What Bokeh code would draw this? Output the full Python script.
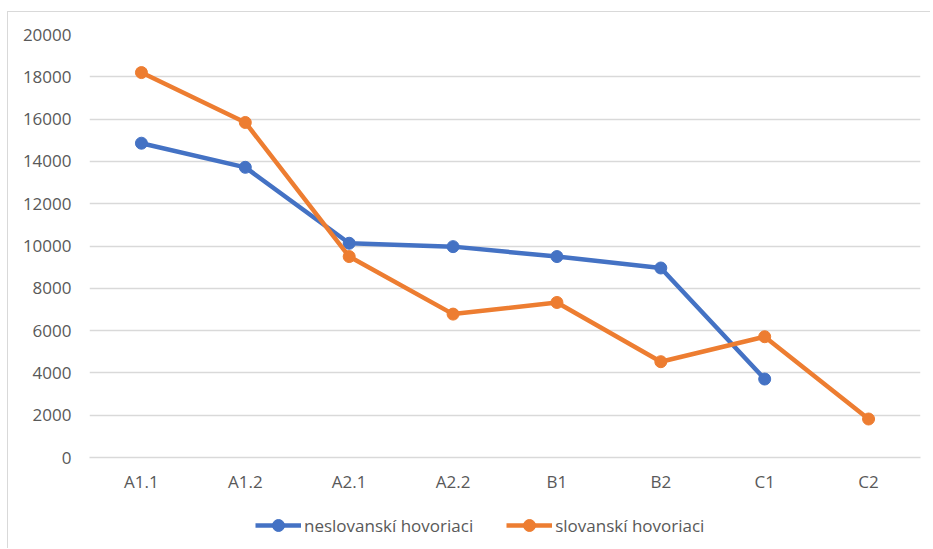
from bokeh.plotting import figure
from bokeh.models import Range1d, FixedTicker, Legend, LegendItem
from bokeh.layouts import column
from bokeh.embed import file_html
from bokeh.resources import INLINE

categories = ["A1.1", "A1.2", "A2.1", "A2.2", "B1", "B2", "C1", "C2"]
neslovanski = [14860, 13720, 10130, 9970, 9500, 8960, 3710, float("nan")]
slovanski = [18200, 15840, 9500, 6780, 7330, 4530, 5710, 1820]
y_ticks = [0, 2000, 4000, 6000, 8000, 10000, 12000, 14000, 16000, 18000, 20000]
series_names = ["neslovanskí hovoriaci", "slovanskí hovoriaci"]

BLUE = "#4472C4"
ORANGE = "#ED7D31"
GRID = "#d9d9d9"
TEXT = "#595959"
FONT = "Open Sans"

p = figure(
    x_range=categories,
    y_range=Range1d(0, 20000),
    width=922,
    height=490,
    output_backend="svg",
    toolbar_location=None,
    min_border_left=81,
    min_border_right=10,
    min_border_top=22,
    min_border_bottom=45,
)
p.x_range.range_padding = 0
p.outline_line_color = None
p.background_fill_color = "white"
p.border_fill_color = "white"

p.xgrid.grid_line_color = None
p.ygrid.grid_line_color = GRID
p.ygrid.grid_line_width = 1.3

p.yaxis.ticker = FixedTicker(ticks=y_ticks)
p.yaxis.axis_line_color = None
p.yaxis.major_tick_line_color = None
p.yaxis.minor_tick_line_color = None
p.yaxis.major_tick_out = 0
p.yaxis.major_label_standoff = 18

p.xaxis.axis_line_color = GRID
p.xaxis.axis_line_width = 1.3
p.xaxis.major_tick_line_color = None
p.xaxis.major_tick_out = 0
p.xaxis.major_label_standoff = 12

for ax in (p.xaxis, p.yaxis):
    ax.major_label_text_font = FONT
    ax.major_label_text_font_size = "17px"
    ax.major_label_text_color = TEXT

p.line(categories, neslovanski, line_color=BLUE, line_width=4.5)
p.scatter(categories, neslovanski, marker="circle", size=12, fill_color=BLUE, line_color=BLUE)
p.line(categories, slovanski, line_color=ORANGE, line_width=4.5)
p.scatter(categories, slovanski, marker="circle", size=12, fill_color=ORANGE, line_color=ORANGE)

# legend strip below the chart (its glyphs use the same data, with a y range
# that keeps them out of view, so that only the legend is drawn)
pl = figure(
    x_range=categories,
    y_range=Range1d(-3, -2),
    width=922,
    height=46,
    output_backend="svg",
    toolbar_location=None,
    min_border_left=81,
    min_border_right=10,
    min_border_top=0,
    min_border_bottom=0,
)
pl.axis.visible = False
pl.grid.grid_line_color = None
pl.outline_line_color = None
pl.background_fill_color = "white"
pl.border_fill_color = "white"

dl1 = pl.line(categories, neslovanski, line_color=BLUE, line_width=4.5)
ds1 = pl.scatter(categories, neslovanski, marker="circle", size=12, fill_color=BLUE, line_color=BLUE)
dl2 = pl.line(categories, slovanski, line_color=ORANGE, line_width=4.5)
ds2 = pl.scatter(categories, slovanski, marker="circle", size=12, fill_color=ORANGE, line_color=ORANGE)

legend = Legend(
    items=[
        LegendItem(label=series_names[0], renderers=[dl1, ds1]),
        LegendItem(label=series_names[1], renderers=[dl2, ds2]),
    ],
    orientation="horizontal",
    location=(166, 8),
    padding=0,
    margin=0,
    spacing=33,
    glyph_width=46,
    glyph_height=30,
    label_height=20,
    label_standoff=3,
    border_line_color=None,
    background_fill_alpha=0,
    label_text_font=FONT,
    label_text_font_size="17px",
    label_text_color=TEXT,
)
pl.add_layout(legend, "center")

layout = column(p, pl, spacing=0)
layout.styles = {"border-left": "1px solid #d9d9d9", "border-top": "1px solid #d9d9d9",
                 "margin-top": "11px", "margin-left": "7px"}

open("out.html", "w").write(file_html(layout, INLINE))
